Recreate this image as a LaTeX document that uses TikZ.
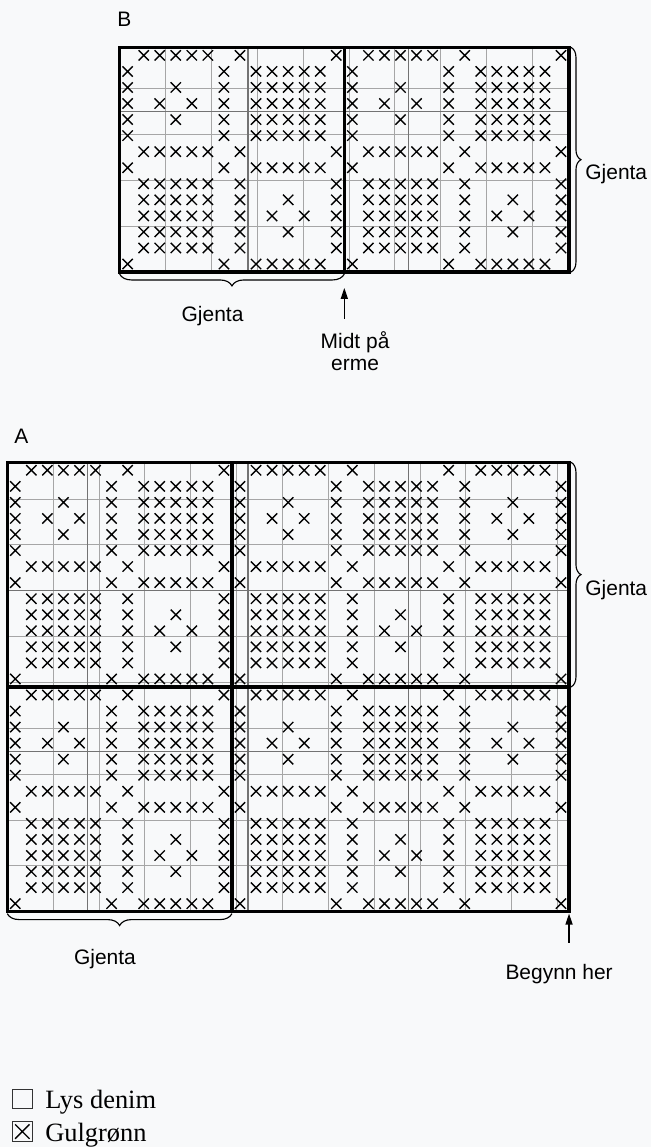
\documentclass[tikz,border=0pt]{standalone}
\usepackage{fontspec}
\setmainfont{Liberation Sans}
\newfontfamily\legendfont{Liberation Serif}
\usetikzlibrary{arrows.meta,decorations.pathreplacing}
\definecolor{bakgrunn}{RGB}{248,249,250}
\tikzset{
  rutenett/.style={draw=gray!70,line width=.5pt},
  tier/.style={draw=black!55,line width=.8pt},
  ramme/.style={line width=2pt},
  kryss/.pic={\draw[line width=.85pt] (-.32,-.32) -- (.32,.32) (-.32,.32) -- (.32,-.32);},
  krull/.style={decorate,decoration={brace,amplitude=#1,raise=1.2pt},line width=.7pt},
  pil/.style={-{Triangle[length=6.8pt,width=4.4pt]},line width=.75pt},
  etikett/.style={font=\fontsize{13}{15}\selectfont,inner sep=0pt},
  forklaring/.style={font=\legendfont\fontsize{16.4}{19}\selectfont,inner sep=0pt},
  rute/.style={draw=black!80,line width=.6pt}
}
% ett rapportfelt, 14 x 14 masker
\newcommand{\monster}{%
  \foreach \r/\kol in {1/{2,3,4,5,6,8,14},2/{1,7,9,10,11,12,13},3/{1,4,7,9,10,11,12,13},
      4/{1,3,5,7,9,10,11,12,13},5/{1,4,7,9,10,11,12,13},6/{1,7,9,10,11,12,13},
      7/{2,3,4,5,6,8,14},8/{1,7,9,10,11,12,13},9/{2,3,4,5,6,8,14},
      10/{2,3,4,5,6,8,11,14},11/{2,3,4,5,6,8,10,12,14},12/{2,3,4,5,6,8,11,14},
      13/{2,3,4,5,6,8,14},14/{1,7,9,10,11,12,13}}
    {\foreach \k in \kol {\pic at (\k-.5,14.5-\r) {kryss};}}}
\begin{document}
\begin{tikzpicture}[x=.35cm,y=.35cm]
    \fill[bakgrunn] (-.452,-14.66) rectangle (40.11,56.80);
    \useasboundingbox (-.452,-14.66) rectangle (40.11,56.80);
    % diagram B
    \begin{scope}[shift={(7,39.85)}]
        \draw[rutenett] (0,0) grid (28,14);
        \draw[tier] (8,0) -- (8,14) (18,0) -- (18,14) (0,10) -- (28,10);
        \foreach \dx in {0,14} {\begin{scope}[shift={(\dx,0)}]\monster\end{scope}}
        \draw[ramme] (0,0) rectangle (28,14) (14,0) -- (14,14);
    \end{scope}
    \coordinate (B-no) at (35,53.85);
    \coordinate (B-so) at (35,39.85);
    \coordinate (B-sv) at (7,39.85);
    \coordinate (B-midt) at (21,39.85);
    \coordinate (midtspiss) at (21,38.86);
    \coordinate (midthale) at (21,36.93);
    \node[etikett,anchor=base west] (Bnavn) at (6.84,55.12) {B};
    \draw[krull=6.2pt] (B-no) -- (B-so);
    \draw[krull=7.4pt] (B-midt) -- (B-sv);
    \node[etikett,anchor=base west] (Bgjenta1) at (36,45.59) {Gjenta};
    \node[etikett,anchor=base] (Bgjenta2) at (12.79,36.80) {Gjenta};
    \draw[pil] (midthale) -- (midtspiss);
    \node[etikett,anchor=base] (midt) at (21.67,35.10) {Midt på};
    \node[etikett,anchor=base] (erme) at (21.67,33.74) {erme};
    % diagram A
    \draw[rutenett] (0,0) grid (35,28);
    \draw[tier] (5,0) -- (5,28) (15,0) -- (15,28) (25,0) -- (25,28) (0,10) -- (35,10) (0,20) -- (35,20);
    \begin{scope}
        \clip (0,0) rectangle (35,28);
        \foreach \dx in {0,14,28} \foreach \dy in {0,14}
            {\begin{scope}[shift={(\dx,\dy)}]\monster\end{scope}}
    \end{scope}
    \draw[ramme] (0,0) rectangle (35,28) (14,0) -- (14,28) (0,14) -- (35,14);
    \coordinate (A-no) at (35,28);
    \coordinate (A-omidt) at (35,14);
    \coordinate (A-sv) at (0,0);
    \coordinate (A-smidt) at (14,0);
    \coordinate (startspiss) at (35,-.12);
    \coordinate (starthale) at (35,-1.95);
    \node[etikett,anchor=base west] (Anavn) at (.42,29.20) {A};
    \draw[krull=6.2pt] (A-no) -- (A-omidt);
    \draw[krull=7.4pt] (A-smidt) -- (A-sv);
    \node[etikett,anchor=base west] (Agjenta1) at (36,19.73) {Gjenta};
    \node[etikett,anchor=base] (Agjenta2) at (6.09,-3.26) {Gjenta};
    \draw[pil] (starthale) -- (startspiss);
    \node[etikett,anchor=base] (begynn) at (34.38,-4.22) {Begynn her};
    % forklaring
    \draw[rute] (.30,-12.28) rectangle (1.58,-11.06);
    \draw[rute] (.30,-14.32) rectangle (1.58,-13.08);
    \pic[scale=1.4] at (.94,-13.70) {kryss};
    \node[forklaring,anchor=base west] (lys) at (2.35,-12.25) {Lys denim};
    \node[forklaring,anchor=base west] (gul) at (2.35,-14.29) {Gulgrønn};
\end{tikzpicture}
\end{document}
